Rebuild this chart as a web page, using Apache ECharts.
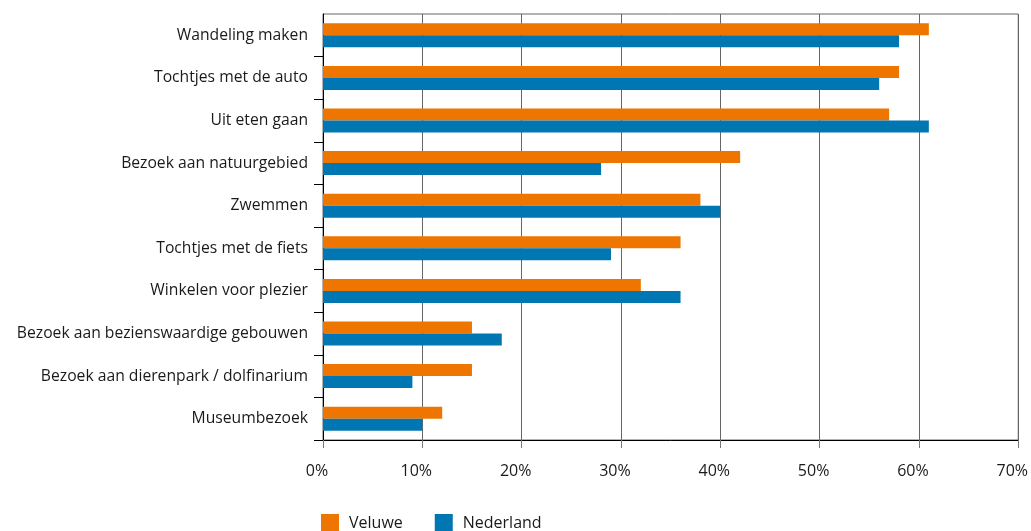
<!DOCTYPE html>
<html>
<head>
<meta charset="utf-8">
<script src="https://cdn.jsdelivr.net/npm/echarts@6/dist/echarts.min.js"></script>
<style>
html,body{margin:0;padding:0;background:#fff;}
#chart{width:1031px;height:531px;}
</style>
</head>
<body>
<div id="chart"></div>
<script>
const categories = [
  "Wandeling maken",
  "Tochtjes met de auto",
  "Uit eten gaan",
  "Bezoek aan natuurgebied",
  "Zwemmen",
  "Tochtjes met de fiets",
  "Winkelen voor plezier",
  "Bezoek aan bezienswaardige gebouwen",
  "Bezoek aan dierenpark / dolfinarium",
  "Museumbezoek"
];
const veluwe =    [61, 58, 57, 42, 38, 36, 32, 15, 15, 12];
const nederland = [58, 56, 61, 28, 40, 29, 36, 18, 9, 10];
const seriesNames = ["Veluwe", "Nederland"];
const xTicks = [0, 10, 20, 30, 40, 50, 60, 70];

const chart = echarts.init(document.getElementById('chart'), null, {renderer: 'canvas'});
const FONT = '"Open Sans", "DejaVu Sans", sans-serif';
chart.setOption({
  animation: false,
  backgroundColor: '#ffffff',
  grid: {
    left: 323, right: 11, top: 14, bottom: 91,
    show: true, borderColor: '#666', borderWidth: 1
  },
  legend: {
    data: seriesNames,
    left: 321, top: 514,
    padding: 0,
    icon: 'rect',
    itemWidth: 18, itemHeight: 18,
    itemGap: 32,
    textStyle: {fontFamily: FONT, fontSize: 16, color: '#1a1a1a', padding: [8, 0, 0, 5]}
  },
  xAxis: {
    type: 'value',
    min: xTicks[0], max: xTicks[xTicks.length - 1], interval: 10,
    axisLine: {show: true, lineStyle: {color: '#000', width: 1}},
    axisTick: {show: true, length: 8, lineStyle: {color: '#777'}},
    splitLine: {show: true, lineStyle: {color: '#666', width: 1}},
    axisLabel: {
      formatter: v => v + '%',
      fontFamily: FONT, fontSize: 16, color: '#1a1a1a',
      margin: 23, padding: [0, 12, 0, 0]
    }
  },
  yAxis: {
    type: 'category',
    data: categories,
    inverse: true,
    axisLine: {show: true, lineStyle: {color: '#000', width: 1}},
    axisTick: {show: true, length: 9, lineStyle: {color: '#000'}, interval: (i) => i !== 0},
    axisLabel: {fontFamily: FONT, fontSize: 15.7, color: '#1a1a1a', margin: 15, padding: [8, 0, 0, 0]}
  },
  series: [
    {name: seriesNames[0], type: 'bar', data: veluwe, barWidth: 12, barGap: '0%',
     itemStyle: {color: '#EE7600'}},
    {name: seriesNames[1], type: 'bar', data: nederland, barWidth: 12, barGap: '0%',
     itemStyle: {color: '#0077B3'}}
  ]
});
</script>
</body>
</html>
